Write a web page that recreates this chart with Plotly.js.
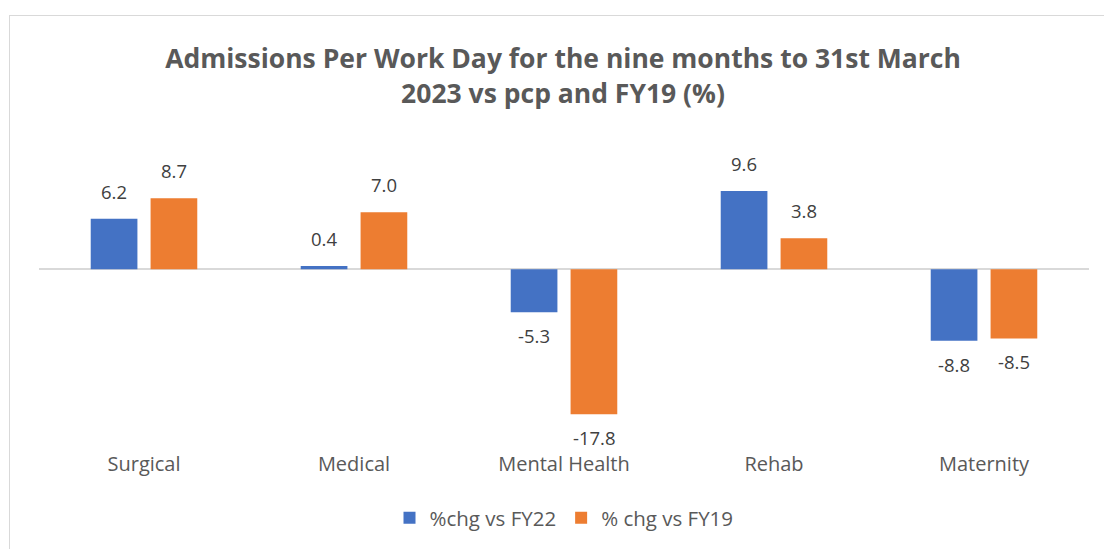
<!DOCTYPE html>
<html>
<head>
<meta charset="utf-8">
<script src="https://cdn.plot.ly/plotly-3.0.1.min.js"></script>
<style>
html,body{margin:0;padding:0;background:#fff;}
#wrap{position:relative;width:1104px;height:549px;overflow:hidden;}
#chart{position:absolute;left:0;top:0;width:1104px;height:549px;}
#frame{position:absolute;left:9px;top:15px;width:1100px;height:600px;border:1px solid #d9d9d9;pointer-events:none;}
</style>
</head>
<body>
<div id="wrap"><div id="chart"></div><div id="frame"></div></div>
<script>
const categories = ["Surgical", "Medical", "Mental Health", "Rehab", "Maternity"];
const seriesNames = ["%chg vs FY22", "% chg vs FY19"];
const chgVsFY22 = [6.2, 0.4, -5.3, 9.6, -8.8];
const chgVsFY19 = [8.7, 7.0, -17.8, 3.8, -8.5];
const colors = ["#4472C4", "#ED7D31"];

const FONT = "Open Sans, sans-serif";
const labelFont = {family: FONT, size: 18.5, color: "#404040"};

function mk(name, vals, color) {
  return {
    type: "bar", name: name, x: categories, y: vals,
    marker: {color: color},
    hoverinfo: "skip"
  };
}

const series = [chgVsFY22, chgVsFY19];
const data = series.map((vals, i) => mk(seriesNames[i], vals, colors[i]));

// value labels placed at each bar's end, offset to the bar's slot in the group
const annotations = [];
series.forEach((vals, i) => {
  vals.forEach((v, j) => {
    annotations.push({
      x: categories[j], y: v, xref: "x", yref: "y",
      text: v.toFixed(1), showarrow: false,
      font: labelFont,
      xshift: i === 0 ? -30 : 30,
      yanchor: v >= 0 ? "bottom" : "top",
      yshift: v >= 0 ? 13 : -9
    });
  });
});

const layout = {
  width: 1104, height: 549,
  paper_bgcolor: "#fff", plot_bgcolor: "#fff",
  margin: {l: 39, r: 15, t: 147, b: 99, autoexpand: false},
  title: {
    text: "<b>Admissions Per Work Day for the nine months to 31st March<br>2023 vs pcp and FY19 (%)</b>",
    font: {family: FONT, size: 26.5, color: "#595959"},
    x: 0.51, xanchor: "center", y: 0.876, yanchor: "top"
  },
  barmode: "group",
  bargap: 0.43,
  bargroupgap: 0.22,
  showlegend: true,
  legend: {
    orientation: "h", x: 0.50, xanchor: "center",
    yref: "container", y: 0.093, yanchor: "top",
    font: {family: FONT, size: 20.5, color: "#595959"},
    traceorder: "normal"
  },
  annotations: annotations,
  xaxis: {
    showline: false, showgrid: false, ticks: "",
    tickfont: {family: FONT, size: 20, color: "#595959"},
    ticklabelstandoff: 0
  },
  yaxis: {
    range: [-22.2, 15],
    showgrid: false, showticklabels: false, ticks: "",
    zeroline: true, zerolinecolor: "#d9d9d9", zerolinewidth: 1.5,
    showline: false
  }
};

Plotly.newPlot("chart", data, layout, {displayModeBar: false, staticPlot: true});
</script>
</body>
</html>
